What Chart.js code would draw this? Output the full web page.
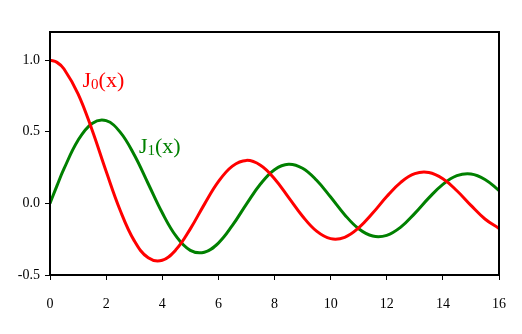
<!DOCTYPE html>
<html>
<head>
<meta charset="utf-8">
<script src="https://cdn.jsdelivr.net/npm/chart.js@4"></script>
<style>
  html, body { margin: 0; padding: 0; background: #fff; }
  #wrap { width: 522px; height: 334px; }
</style>
</head>
<body>
<div id="wrap"><canvas id="bessel"></canvas></div>
<script>
// values, mostly every 0.5 on x
const xs = [0, 0.25, 0.5, 1, 1.5, 2, 2.5, 3, 3.5, 4, 4.5, 5, 5.5, 6, 6.5, 7, 7.5, 8,
  8.5, 9, 9.5, 10, 10.5, 11, 11.5, 12, 12.5, 13, 13.5, 14, 14.5, 15, 15.5, 16];
const j0 = [1.0, 0.984, 0.938, 0.765, 0.512, 0.224, -0.048, -0.260, -0.380, -0.397, -0.321,
  -0.178, -0.007, 0.151, 0.260, 0.300, 0.266, 0.172, 0.042, -0.090, -0.194, -0.246,
  -0.237, -0.171, -0.068, 0.048, 0.147, 0.207, 0.215, 0.171, 0.088, -0.014, -0.109, -0.175];
const j1 = [0.0, 0.124, 0.242, 0.440, 0.558, 0.577, 0.497, 0.339, 0.137, -0.066, -0.231,
  -0.328, -0.341, -0.277, -0.154, -0.005, 0.135, 0.235, 0.273, 0.245, 0.161, 0.044,
  -0.079, -0.177, -0.228, -0.223, -0.166, -0.070, 0.038, 0.133, 0.193, 0.205, 0.167, 0.090];
const xTicks = [0, 2, 4, 6, 8, 10, 12, 14, 16];
const yTicks = [-0.5, 0.0, 0.5, 1.0];

const serif = '"Liberation Serif", "Times New Roman", serif';

const pts = (ys) => xs.map((x, i) => ({ x: x, y: ys[i] }));

// frame around the plot + curve names
const frameAndNames = {
  id: 'frameAndNames',
  afterDraw(chart) {
    const { ctx, chartArea: a, scales } = chart;
    ctx.save();
    ctx.strokeStyle = '#000';
    ctx.lineWidth = 2;
    ctx.strokeRect(a.left, a.top, a.right - a.left, a.bottom - a.top);

    const name = (sub, x, y, color) => {
      let px = scales.x.getPixelForValue(x);
      const py = scales.y.getPixelForValue(y);
      ctx.fillStyle = color;
      ctx.textBaseline = 'alphabetic';
      ctx.font = '22px ' + serif;
      ctx.fillText('J', px, py);
      px += ctx.measureText('J').width;
      ctx.font = '15px ' + serif;
      ctx.fillText(sub, px, py + 2);
      px += ctx.measureText(sub).width;
      ctx.font = '22px ' + serif;
      ctx.fillText('(x)', px, py);
    };
    name('0', 1.16, 0.81, '#ff0000');
    name('1', 3.17, 0.35, '#008000');
    ctx.restore();
  }
};

new Chart(document.getElementById('bessel'), {
  type: 'line',
  plugins: [frameAndNames],
  data: {
    datasets: [
      { label: 'J0(x)', data: pts(j0), borderColor: '#ff0000', borderWidth: 3,
        pointRadius: 0, tension: 0.4, fill: false },
      { label: 'J1(x)', data: pts(j1), borderColor: '#008000', borderWidth: 3,
        pointRadius: 0, tension: 0.4, fill: false }
    ]
  },
  options: {
    responsive: true,
    maintainAspectRatio: false,
    animation: false,
    events: [],
    layout: { padding: { top: 32, right: 23, left: 0, bottom: 0 } },
    plugins: { legend: { display: false }, tooltip: { enabled: false } },
    scales: {
      x: {
        type: 'linear', min: 0, max: 16,
        afterBuildTicks: (s) => { s.ticks = xTicks.map(v => ({ value: v })); },
        afterFit: (s) => { s.height = 59; },
        grid: { drawOnChartArea: false, drawTicks: true, tickLength: 5, color: '#000', lineWidth: 1 },
        border: { color: '#000', width: 2 },
        ticks: { color: '#000', font: { family: serif, size: 14 }, padding: 16, maxRotation: 0 }
      },
      y: {
        type: 'linear', min: -0.5, max: 1.196,
        afterBuildTicks: (s) => { s.ticks = yTicks.map(v => ({ value: v })); },
        afterFit: (s) => { s.width = 50; },
        grid: { drawOnChartArea: false, drawTicks: true, tickLength: 5, color: '#000', lineWidth: 1 },
        border: { color: '#000', width: 2 },
        ticks: { color: '#000', font: { family: serif, size: 14 }, padding: 5,
          callback: (v) => v.toFixed(1) }
      }
    }
  }
});
</script>
</body>
</html>
